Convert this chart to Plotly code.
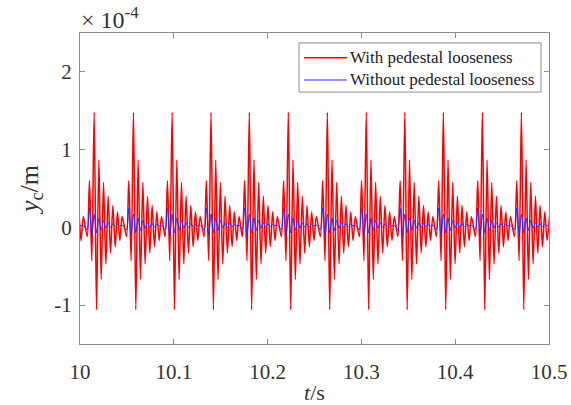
import plotly.graph_objects as go

# Impulse (main peak) times, s
impulse_times = [9.9737, 10.0151, 10.0570, 10.0982, 10.1397, 10.1805, 10.2221,
                 10.2637, 10.3052, 10.3463, 10.3874, 10.4290, 10.4706]
# half period of the ringing oscillation, s
half_period = 0.00249
# extrema index (in half periods relative to the main peak)
k_index = [-3, -2, -1, 0, 1, 2, 3, 4, 5, 6, 7, 8, 9, 10, 11, 12]
# extrema values (x1e-4 m) of one impulse response
with_loose = [-0.12, 0.60, -0.43, 1.48, -1.06, 0.87, -0.67, 0.58, -0.47, 0.40,
              -0.33, 0.28, -0.25, 0.20, -0.17, 0.14]
without_loose = [-0.03, 0.25, -0.11, 0.17, -0.07, 0.12, -0.04, 0.09, -0.01, 0.06,
                 0.00, 0.05, 0.01, 0.04, 0.02, 0.03]
series_names = ["With pedestal looseness", "Without pedestal looseness"]
series_colors = ["#ff0000", "#2a2aff"]

scale = 1e-4
tx, yr, yb = [], [], []
for tp in impulse_times:
    for k, a, b in zip(k_index, with_loose, without_loose):
        tx.append(tp + k * half_period)
        yr.append(a * scale)
        yb.append(b * scale)

x_ticks = [10, 10.1, 10.2, 10.3, 10.4, 10.5]
y_ticks = [-1, 0, 1, 2]

FONT = "Liberation Serif"
AX = "#8c8c8c"
TXT = "#333333"

fig = go.Figure()
fig.add_trace(go.Scatter(x=tx, y=yr, mode="lines", name=series_names[0], showlegend=False,
                         line=dict(color=series_colors[0], width=1.5, shape="spline", smoothing=0.8)))
fig.add_trace(go.Scatter(x=tx, y=yb, mode="lines", name=series_names[1], showlegend=False,
                         line=dict(color=series_colors[1], width=1, shape="spline", smoothing=0.8)))

axis_common = dict(showline=True, linecolor=AX, linewidth=1, mirror="ticks",
                   ticks="inside", ticklen=5, tickcolor=AX, showgrid=False,
                   zeroline=False, automargin=False,
                   tickfont=dict(family=FONT, size=21, color=TXT))

fig.update_xaxes(range=[10, 10.5], tickvals=x_ticks,
                 ticktext=[f"{v:g}" for v in x_ticks], ticklabelstandoff=9,
                 title=dict(text="<i>t</i>/s", font=dict(family=FONT, size=22, color=TXT),
                            standoff=11),
                 **axis_common)
fig.update_yaxes(range=[-1.5 * scale, 2.5 * scale], tickvals=[v * scale for v in y_ticks],
                 ticktext=[str(v) for v in y_ticks], ticklabelstandoff=3,
                 title=dict(text="<i>y</i><sub>c</sub>/m", font=dict(family=FONT, size=26, color=TXT),
                            standoff=8),
                 **axis_common)

fig.add_annotation(text="× 10<sup>-4</sup>", xref="paper", yref="paper", x=0.0, y=1.0,
                   xanchor="left", yanchor="bottom", showarrow=False, yshift=-2, xshift=-1,
                   font=dict(family=FONT, size=24, color=TXT))

# Legend drawn in paper coordinates (MATLAB style box)
fig.add_shape(type="rect", xref="paper", yref="paper", x0=0.467, x1=0.983, y0=0.810, y1=0.968,
              line=dict(color=AX, width=1), fillcolor="white", layer="above")
legend_rows = [0.9206, 0.8489]
for name, color, yy in zip(series_names, series_colors, legend_rows):
    fig.add_shape(type="line", xref="paper", yref="paper", x0=0.4776, x1=0.5693, y0=yy, y1=yy,
                  line=dict(color=color, width=1.5 if color == "#ff0000" else 1), layer="above")
    fig.add_annotation(text=name, xref="paper", yref="paper", x=0.5715, y=yy,
                       xanchor="left", yanchor="middle", showarrow=False,
                       font=dict(family=FONT, size=17, color="#222222"))

fig.update_layout(
    width=571, height=405,
    margin=dict(l=80, r=22, t=33, b=61),
    paper_bgcolor="white", plot_bgcolor="white",
    showlegend=False,
)

fig.write_html("out.html")
